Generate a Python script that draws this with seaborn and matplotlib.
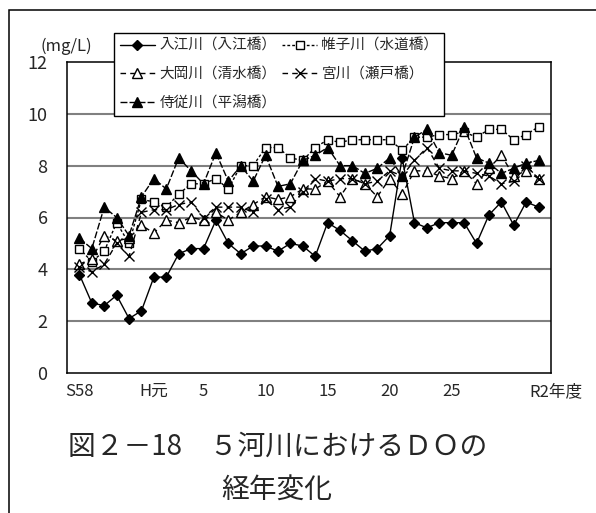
import numpy as np
import pandas as pd
import matplotlib
matplotlib.use('Agg')
import matplotlib.pyplot as plt
import matplotlib.transforms as mtransforms
from matplotlib.patches import Rectangle
from matplotlib.ticker import MultipleLocator
import seaborn as sns

# data (mg/L), S58 (1983) .. R2 (2020)
years = list(range(1983, 2021))
irie = [3.8, 2.7, 2.6, 3.0, 2.1, 2.4, 3.7, 3.7, 4.6, 4.8, 4.8, 5.9, 5.0, 4.6, 4.9, 4.9, 4.7, 5.0, 4.9,
        4.5, 5.8, 5.5, 5.1, 4.7, 4.8, 5.3, 8.3, 5.8, 5.6, 5.8, 5.8, 5.8, 5.0, 6.1, 6.6, 5.7, 6.6, 6.4]
katabira = [4.8, 4.3, 4.7, 5.8, 5.0, 6.7, 6.6, 6.4, 6.9, 7.3, 7.3, 7.5, 7.1, 8.0, 8.0, 8.7, 8.7, 8.3, 8.2,
            8.7, 9.0, 8.9, 9.0, 9.0, 9.0, 9.0, 8.6, 9.1, 9.1, 9.2, 9.2, 9.3, 9.1, 9.4, 9.4, 9.0, 9.2, 9.5]
ooka = [4.2, 4.4, 5.3, 5.1, 5.2, 5.7, 5.4, 5.9, 5.8, 6.0, 5.9, 6.2, 5.9, 6.2, 6.5, 6.8, 6.7, 6.8, 7.1,
        7.1, 7.4, 6.8, 7.5, 7.3, 6.8, 7.5, 6.9, 7.8, 7.8, 7.6, 7.5, 7.8, 7.3, 7.9, 8.4, 7.6, 7.8, 7.5]
miya = [4.1, 3.9, 4.2, 5.0, 4.5, 6.2, 6.3, 6.3, 6.5, 6.6, 6.0, 6.4, 6.4, 6.4, 6.2, 6.7, 6.3, 6.4, 7.0,
        7.5, 7.4, 7.5, 7.5, 7.3, 7.4, 7.8, 7.6, 8.2, 8.7, 7.9, 7.8, 7.8, 7.7, 7.6, 7.3, 7.4, 8.0, 7.5]
jiju = [5.2, 4.8, 6.4, 6.0, 5.3, 6.8, 7.5, 7.1, 8.3, 7.8, 7.3, 8.5, 7.4, 8.0, 7.4, 8.4, 7.2, 7.3, 8.2,
        8.4, 8.7, 8.0, 8.0, 7.7, 7.9, 8.3, 7.6, 9.1, 9.4, 8.5, 8.4, 9.5, 8.3, 8.1, 7.7, 7.9, 8.1, 8.2]

names = ['入江川（入江橋）', '帷子川（水道橋）', '大岡川（清水橋）', '宮川（瀬戸橋）', '侍従川（平潟橋）']
tick_years = [1983, 1989, 1993, 1998, 2003, 2008, 2013, 2020]
tick_labels = ['S58', 'H元', '5', '10', '15', '20', '25', 'R2年度']

sns.set_style('white')
plt.rcParams['font.family'] = ['Noto Sans CJK JP', 'DejaVu Sans']
num_font = ['Noto Sans CJK JP', 'DejaVu Sans']

fig = plt.figure(figsize=(5.96, 5.13), dpi=100)
ax = fig.add_axes([67 / 596, 1 - 373 / 513, 484 / 596, 311 / 513])

styles = [
    dict(marker='D', markersize=5.5, markerfacecolor='black', linestyle='-'),
    dict(marker='s', markersize=6, markerfacecolor='white', linestyle=(0, (2, 1.5))),
    dict(marker='^', markersize=6.5, markerfacecolor='white', linestyle=(0, (4, 3))),
    dict(marker='x', markersize=6.5, markerfacecolor='none', linestyle=(0, (4, 3))),
    dict(marker='^', markersize=7, markerfacecolor='black', linestyle=(0, (5, 1.5))),
]
series = [irie, katabira, ooka, miya, jiju]

for name, vals, st in zip(names, series, styles):
    sns.lineplot(x=years, y=vals, ax=ax, color='black', linewidth=1.0,
                 markeredgecolor='black', markeredgewidth=1.0, label=name, **st)

ax.set_xlim(1982, 2021)
ax.set_ylim(0, 12)
ax.set_xticks(tick_years)
ax.set_xticklabels(tick_labels)
ax.xaxis.set_minor_locator(MultipleLocator(1))
ax.set_yticks(np.arange(0, 13, 2))
ax.yaxis.set_minor_locator(MultipleLocator(0.5))
ax.tick_params(axis='both', which='both', direction='in', length=4, width=1, color='black')
ax.tick_params(axis='x', which='major', pad=7, labelsize=12)
ax.tick_params(axis='y', which='major', pad=14, labelsize=13)
ax.set_xlabel('')
ax.set_ylabel('')
for lab in ax.get_xticklabels() + ax.get_yticklabels():
    lab.set_fontfamily(num_font)
last = ax.get_xticklabels()[-1]
last.set_horizontalalignment('left')
last.set_transform(last.get_transform() + mtransforms.ScaledTranslation(-0.09, 0, fig.dpi_scale_trans))

ax.grid(False)
for g in [2, 4, 6, 8, 10]:
    ax.axhline(g, color='#808080', linewidth=1.5, zorder=0)
for sp in ax.spines.values():
    sp.set_color('black')
    sp.set_linewidth(1.1)

handles, labels = ax.get_legend_handles_labels()
order = [0, 2, 4, 1, 3]
leg = ax.legend([handles[i] for i in order], [labels[i] for i in order], ncol=2,
                loc='upper left', bbox_to_anchor=(114 / 596, 1 - 33 / 513),
                bbox_transform=fig.transFigure, fontsize=10.5, frameon=True,
                fancybox=False, framealpha=1, edgecolor='black', borderpad=0.4,
                labelspacing=1.0, handlelength=2.4, handletextpad=0.3,
                columnspacing=0.4, borderaxespad=0)
leg.get_frame().set_linewidth(1.0)
leg.set_zorder(10)

fig.text(66 / 596, 1 - 46 / 513, '(mg/L)', ha='center', va='center', fontsize=12,
         family=num_font)

fig.text(0.465, 1 - 447 / 513, '図２－18　５河川におけるＤＯの', ha='center', va='center',
         fontsize=20, fontweight='normal')
fig.text(0.465, 1 - 490 / 513, '経年変化', ha='center', va='center',
         fontsize=20, fontweight='normal')

# outer frame (cut off at right and bottom like the source)
fig.patches.append(Rectangle((9 / 596, -0.2), 1.2, 1.2 - 10 / 513, transform=fig.transFigure,
                             fill=False, edgecolor='black', linewidth=1.1))

fig.savefig('out.png', dpi=100)
